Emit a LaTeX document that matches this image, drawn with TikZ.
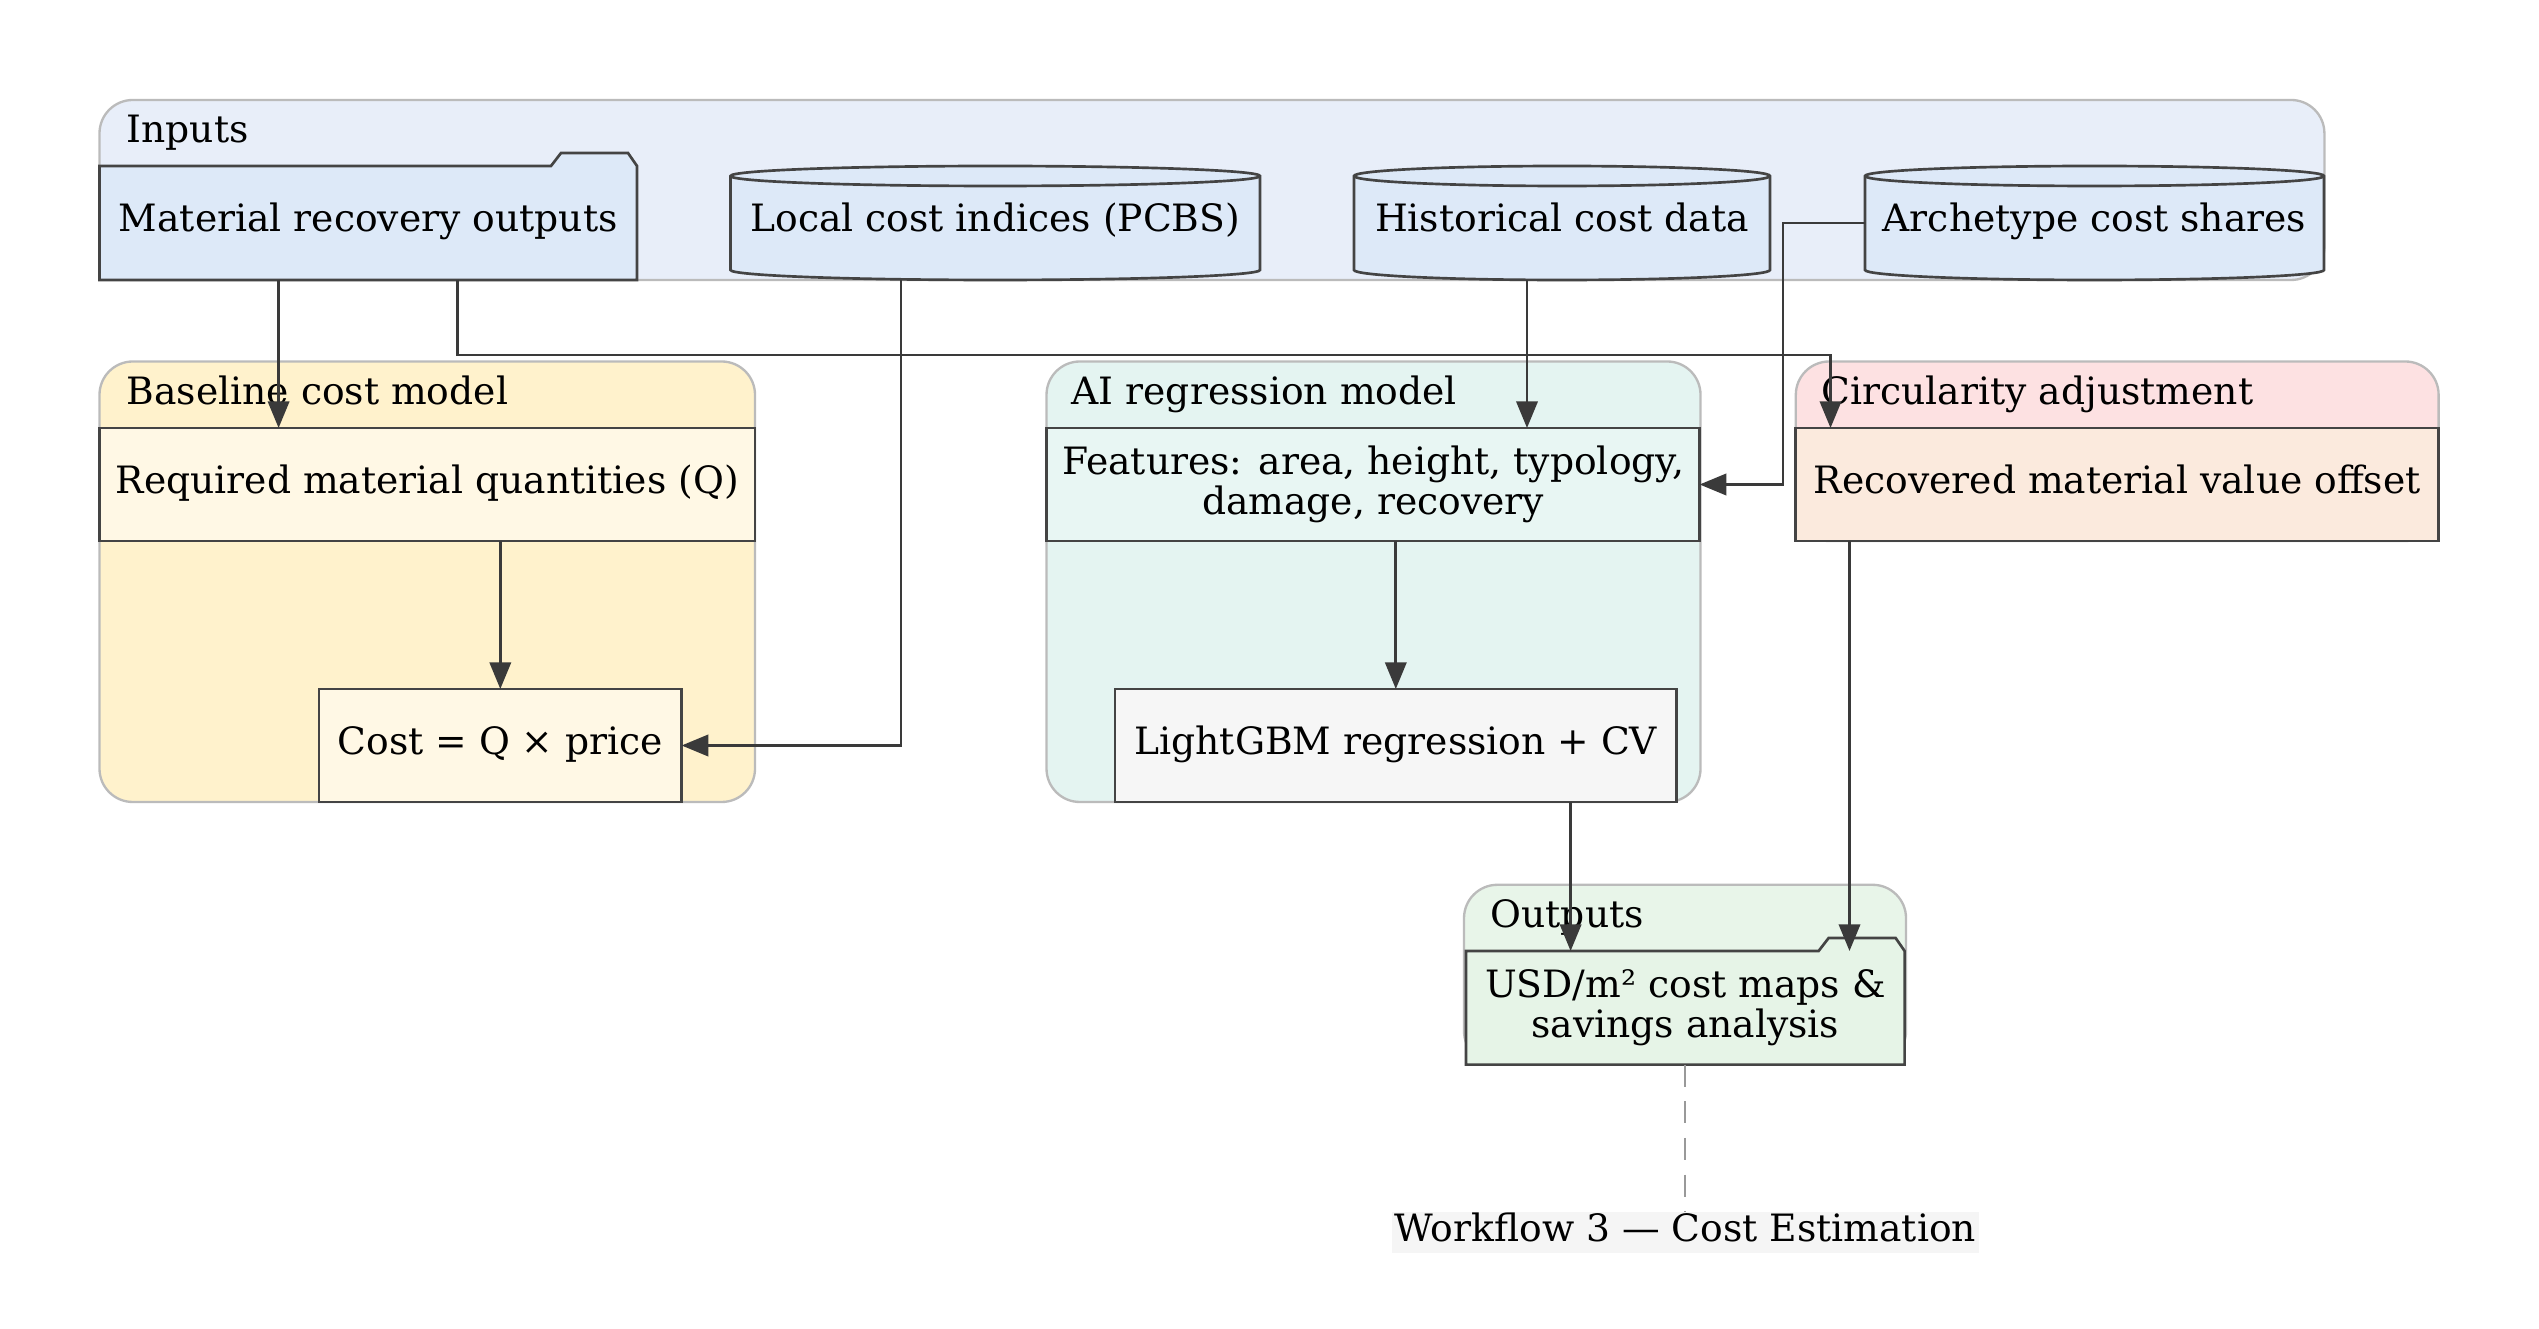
\documentclass[tikz,border=0pt]{standalone}
\usepackage{fontspec}
\setmainfont{DejaVu Serif}
\usetikzlibrary{arrows.meta,calc,fit}
\pgfdeclarelayer{bg}\pgfdeclarelayer{mid}\pgfsetlayers{bg,mid,main}
\definecolor{inbg}{HTML}{E8EEF9}
\definecolor{innode}{HTML}{DDE9F8}
\definecolor{basebg}{HTML}{FFF2CC}
\definecolor{basenode}{HTML}{FFF8E5}
\definecolor{aibg}{HTML}{E4F4F1}
\definecolor{featnode}{HTML}{E8F6F3}
\definecolor{lgbmnode}{HTML}{F6F6F6}
\definecolor{circbg}{HTML}{FDE1E2}
\definecolor{recnode}{HTML}{FBEADD}
\definecolor{outbg}{HTML}{E8F5E9}
\definecolor{outnode}{HTML}{E6F4E7}
\definecolor{capbg}{HTML}{F5F5F5}
\definecolor{clline}{HTML}{BBBBBB}
\definecolor{ndline}{HTML}{444444}
\definecolor{edgecol}{HTML}{3A3A3A}
\definecolor{dashcol}{HTML}{999999}
\newcommand\foldershape[2]{%
  \draw[nodeline, fill=#2] (#1.south west) -- (#1.north west)
    -- ($(#1.north east)+(-86,0)$) -- ($(#1.north east)+(-76,-13)$)
    -- ($(#1.north east)+(-9,-13)$) -- (#1.north east) -- (#1.south east) -- cycle;}
\newcommand\cylshape[3]{%
  \draw[nodeline, fill=#2] ($(#1.north west)+(0,10)$) -- ($(#1.south west)+(0,-10)$)
    arc[start angle=180,end angle=0,x radius=#3,y radius=10]
    -- ($(#1.north east)+(0,10)$)
    arc[start angle=0,end angle=-180,x radius=#3,y radius=10] -- cycle;
  \draw[nodeline] ($(#1.north west)+(0,10)$)
    arc[start angle=180,end angle=0,x radius=#3,y radius=10];}
\begin{document}
\begin{tikzpicture}[x=0.3pt,y=-0.3pt,
  every node/.style={font=\fontsize{11.3}{12.2}\selectfont, text=black},
  box/.style={inner sep=0pt, outer sep=0pt, align=center},
  one/.style={text height=0.76em, text depth=0.24em},
  sz/.style 2 args={minimum width=#1*0.3pt, minimum height=#2*0.3pt},
  rbox/.style={box, draw=ndline, line width=0.8pt},
  cluster/.style={inner sep=0pt, draw=clline, line width=0.7pt, rounded corners=10pt},
  nodeline/.style={draw=ndline, line width=0.8pt},
  edge/.style={draw=edgecol, line width=0.8pt, -{Triangle[length=8pt,width=6.4pt]}},
  lbl/.style={anchor=base west, inner sep=0pt}]
\useasboundingbox (0,0) rectangle (2539,1329);

% clusters
\begin{pgfonlayer}{bg}
  \node[cluster, fill=inbg, fit={(99.5,100) (2324.4,280)}] (inputs) {};
  \node[cluster, fill=basebg, fit={(99.5,361.5) (755,802)}] (baseline) {};
  \node[cluster, fill=aibg, fit={(1046.5,361.5) (1700.5,802)}] (ai) {};
  \node[cluster, fill=circbg, fit={(1795.8,361.5) (2438.6,541)}] (circ) {};
  \node[cluster, fill=outbg, fit={(1464,884.8) (1906,1064.6)}] (outputs) {};
\end{pgfonlayer}

\node[lbl] (inputslbl) at (126,143) {Inputs};
\node[lbl] (baselinelbl) at (126,404.5) {Baseline cost model};
\node[lbl] (ailbl) at (1071,404.5) {AI regression model};
\node[lbl] (circlbl) at (1821,404.5) {Circularity adjustment};
\node[lbl] (outputslbl) at (1490,927.5) {Outputs};

% input nodes
\node[box, one, sz={537.5}{114}] (mro) at (368.25,223) {Material recovery outputs};
\node[box, one, sz={529.5}{114}] (lci) at (995.25,223) {Local cost indices (PCBS)};
\node[box, one, sz={416}{114}] (hcd) at (1562,223) {Historical cost data};
\node[box, one, sz={459}{114}] (acs) at (2094.5,223) {Archetype cost shares};

% process nodes
\node[rbox, one, fill=basenode, sz={655.5}{113}] (req) at (427.25,484.5) {Required material quantities (Q)};
\node[rbox, one, fill=basenode, sz={362.6}{113}] (cost) at (500.3,745.5) {Cost = Q × price};
\node[rbox, fill=featnode, sz={653.1}{113}] (feat) at (1373.05,484.5) {Features: area, height, typology,\\damage, recovery};
\node[rbox, one, fill=lgbmnode, sz={561.6}{113}] (lgbm) at (1395.8,745.5) {LightGBM regression + CV};
\node[rbox, one, fill=recnode, sz={642.8}{113}] (rec) at (2117.2,484.5) {Recovered material value offset};
\node[box, sz={438.6}{113.6}] (out) at (1685.3,1007.8) {USD/m² cost maps \&\\savings analysis};
\node[box, one, fill=capbg, sz={586.6}{41}] (cap) at (1685.3,1232.5) {Workflow 3 — Cost Estimation};

\begin{pgfonlayer}{mid}
  \foldershape{mro}{innode}
  \foldershape{out}{outnode}
  \cylshape{lci}{innode}{264.75}
  \cylshape{hcd}{innode}{208}
  \cylshape{acs}{innode}{229.5}
\end{pgfonlayer}

% connectors
\coordinate (c1) at (278.6,0);
\coordinate (c2) at (457.7,355);
\coordinate (c3) at (1830.5,355);
\coordinate (c4) at (901,0);
\coordinate (c5) at (1527,0);
\coordinate (c6) at (1783,0);
\coordinate (c7) at (1570.6,0);
\coordinate (c8) at (1849.5,0);
\draw[edge] (c1 |- mro.south) -- (c1 |- req.north);
\draw[edge] (c2 |- mro.south) -- (c2) -- (c3) -- (c3 |- rec.north);
\draw[edge] (c4 |- lci.south) -- (c4 |- cost.east) -- (cost.east);
\draw[edge] (c5 |- hcd.south) -- (c5 |- feat.north);
\draw[edge] (acs.west) -- (c6 |- acs.west) -- (c6 |- feat.east) -- (feat.east);
\draw[edge] (req.south -| cost.north) -- (cost.north);
\draw[edge] (feat.south -| lgbm.north) -- (lgbm.north);
\draw[edge] (c7 |- lgbm.south) -- (c7 |- out.north);
\draw[edge] (c8 |- rec.south) -- (c8 |- out.north);
\draw[dashcol, line width=0.6pt, dash pattern=on 6.6pt off 4.4pt] (out.south) -- (cap.north);
\end{tikzpicture}
\end{document}
